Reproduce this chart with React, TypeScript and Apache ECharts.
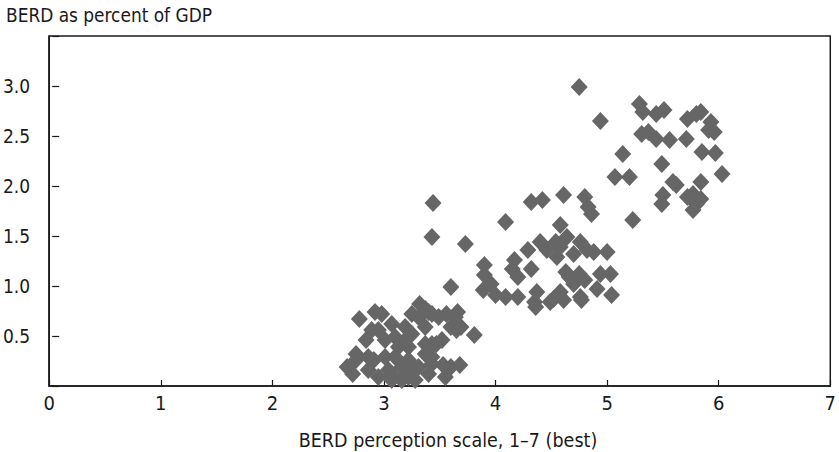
import React, { useEffect, useRef } from "react";
import * as echarts from "echarts";

// BERD perception scale (x) and BERD as percent of GDP (y), one entry per country
const perception: number[] = [
  4.75, 4.94, 5.29, 5.32, 5.44, 5.51, 5.72, 5.80, 5.84, 5.93, 5.91, 5.96, 5.31, 5.37, 5.44, 5.56, 5.71, 5.85, 5.97, 6.03,
  5.14, 5.49, 5.07, 5.20, 5.62, 5.59, 5.84, 5.50, 5.49, 5.77, 5.72, 5.80, 5.77, 5.84, 5.23,
  4.80, 4.86, 4.83, 4.32, 4.42, 4.61, 4.09, 4.58, 3.44, 3.43, 3.73, 3.60, 3.90, 3.90, 3.89, 3.96, 4.00, 4.09, 4.17, 4.15,
  4.40, 4.29, 4.20, 4.32, 4.46, 4.54, 4.58, 4.64, 4.70, 4.76, 4.82, 4.88, 5.00, 4.55, 4.63, 4.66, 4.75, 4.70, 4.80, 4.94,
  5.03, 4.91, 5.04, 4.76, 4.58, 4.52, 4.37, 4.20, 4.35, 4.49, 4.36, 4.61, 4.77,
  3.81, 3.66, 3.56, 3.32, 3.25, 3.43, 3.65, 3.47, 3.60, 3.68, 3.53, 2.98, 3.07, 2.95, 3.10, 3.22, 3.37, 3.43, 3.25, 2.78,
  2.92, 2.89, 3.01, 2.67, 2.75, 2.72, 2.86, 2.95, 2.91, 3.01, 3.07, 3.13, 3.16, 3.28, 3.31, 3.40, 3.49, 3.52, 3.37, 3.60,
  3.43, 3.22, 3.19, 2.84, 3.37, 3.64, 3.69, 3.19, 3.37, 3.10, 2.86, 2.75, 3.04, 3.16, 3.22, 3.31, 3.40, 3.43, 3.55, 3.07,
  3.28,
];
const berdShare: number[] = [
  2.99, 2.65, 2.82, 2.74, 2.72, 2.76, 2.67, 2.72, 2.74, 2.64, 2.56, 2.54, 2.52, 2.54, 2.47, 2.46, 2.47, 2.34, 2.33, 2.12,
  2.32, 2.22, 2.09, 2.09, 2.01, 2.04, 2.04, 1.91, 1.82, 1.92, 1.89, 1.82, 1.76, 1.87, 1.66,
  1.89, 1.72, 1.79, 1.84, 1.86, 1.91, 1.64, 1.61, 1.83, 1.49, 1.42, 0.99, 1.21, 1.11, 0.96, 1.02, 0.91, 0.89, 1.26, 1.17,
  1.44, 1.36, 1.09, 1.17, 1.36, 1.44, 1.39, 1.49, 1.32, 1.44, 1.36, 1.34, 1.34, 1.29, 1.14, 1.09, 1.12, 1.02, 1.06, 1.12,
  1.12, 0.97, 0.91, 0.89, 0.94, 0.87, 0.94, 0.89, 0.84, 0.84, 0.79, 0.86, 0.86,
  0.51, 0.74, 0.72, 0.82, 0.72, 0.72, 0.56, 0.42, 0.19, 0.21, 0.21, 0.72, 0.62, 0.56, 0.49, 0.39, 0.32, 0.42, 0.52, 0.67,
  0.74, 0.56, 0.46, 0.19, 0.26, 0.12, 0.16, 0.09, 0.26, 0.29, 0.12, 0.39, 0.06, 0.16, 0.69, 0.74, 0.69, 0.46, 0.59, 0.59,
  0.22, 0.26, 0.59, 0.46, 0.77, 0.69, 0.59, 0.46, 0.42, 0.29, 0.29, 0.32, 0.16, 0.19, 0.09, 0.19, 0.12, 0.29, 0.09, 0.06,
  0.06,
];

const xTicks: number[] = [0, 1, 2, 3, 4, 5, 6, 7];
const yTickLabels: number[] = [0.5, 1.0, 1.5, 2.0, 2.5, 3.0];

const FONT = "'Liberation Sans Narrow', 'DejaVu Sans Condensed', 'Roboto Condensed', sans-serif";
const INK = "#1a1a1a";

export default function App() {
  const ref = useRef<HTMLDivElement>(null);

  useEffect(() => {
    if (!ref.current) return;
    const chart = echarts.init(ref.current, null, { renderer: "svg" });
    const points = perception.map((x, i) => [x, berdShare[i]]);

    chart.setOption({
      animation: false,
      backgroundColor: "#ffffff",
      grid: {
        left: 46,
        right: 4,
        top: 36,
        bottom: 66,
        show: true,
        borderColor: INK,
        borderWidth: 1.5,
        containLabel: false,
      },
      xAxis: {
        type: "value",
        min: xTicks[0],
        max: xTicks[xTicks.length - 1],
        interval: 1,
        axisLine: { show: true, lineStyle: { color: INK, width: 1.5 } },
        axisTick: { show: true, inside: true, length: 6, lineStyle: { color: INK, width: 1.2 } },
        axisLabel: { color: INK, fontFamily: FONT, fontSize: 20, margin: 7 },
        splitLine: { show: false },
      },
      yAxis: [
        {
          type: "value",
          min: 0,
          max: 3.5,
          interval: 0.5,
          axisLine: { show: true, lineStyle: { color: INK, width: 1.5 } },
          axisTick: { show: false },
          axisLabel: {
            color: INK,
            fontFamily: FONT,
            fontSize: 19,
            margin: 19,
            formatter: (v: number) => (yTickLabels.some((t) => Math.abs(t - v) < 1e-6) ? v.toFixed(1) : ""),
          },
          splitLine: { show: false },
        },
        {
          // short dashes set slightly off the left axis line
          type: "value",
          min: 0,
          max: 3.5,
          interval: 0.5,
          position: "left",
          offset: -3,
          axisLine: { show: false },
          axisTick: { show: true, inside: true, length: 7, lineStyle: { color: INK, width: 1.2 } },
          axisLabel: { show: false },
          splitLine: { show: false },
        },
      ],
      series: [
        {
          type: "scatter",
          yAxisIndex: 0,
          symbol: "diamond",
          symbolSize: [17, 18],
          itemStyle: { color: "#666666", opacity: 1 },
          data: points,
        },
      ],
      graphic: [
        {
          type: "text",
          x: 6,
          y: 5,
          scaleX: 0.945,
          style: { text: "BERD as percent of GDP", fill: INK, font: `20px ${FONT}` },
        },
        {
          type: "text",
          x: 448,
          y: 440,
          scaleX: 0.975,
          style: {
            text: "BERD perception scale, 1\u20137 (best)",
            fill: INK,
            font: `20px ${FONT}`,
            align: "center",
            verticalAlign: "middle",
          },
        },
      ],
    });

    return () => chart.dispose();
  }, []);

  return (
    <div
      ref={ref}
      style={{ position: "fixed", left: 0, top: 0, width: 839, height: 452, background: "#ffffff" }}
    />
  );
}
